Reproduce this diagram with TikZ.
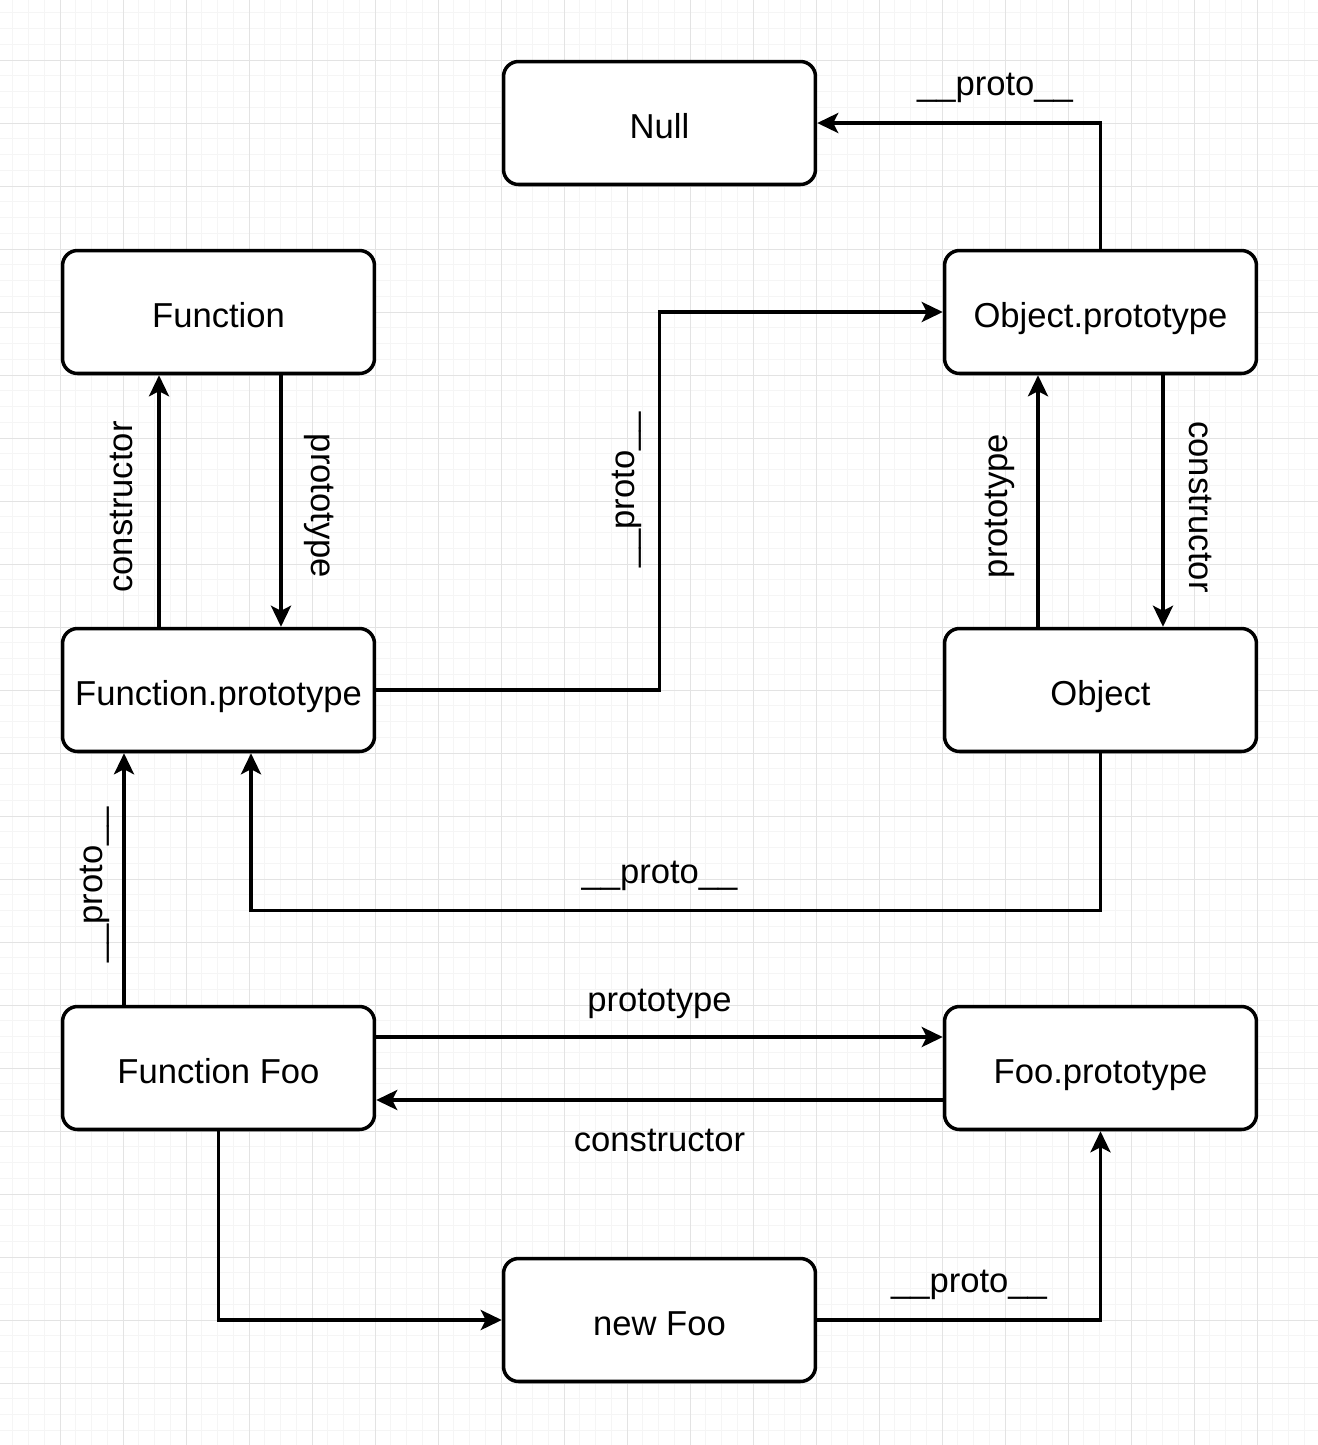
\documentclass[tikz,border=0pt]{standalone}
\usepackage{fontspec}
\setmainfont{Liberation Sans}
\usetikzlibrary{arrows.meta, calc}

\begin{document}
\begin{tikzpicture}[x=0.02cm, y=-0.02cm,
    box/.style={draw, line width=2pt, rounded corners=0.3cm, fill=white, minimum width=6.24cm, minimum height=2.46cm, inner sep=0pt, text height=0.7cm, text depth=0.1cm, font=\fontsize{19.7}{24}\selectfont},
    link/.style={line width=2pt, -{Stealth[length=0.42cm, width=0.4cm, inset=0.1cm]}},
    lbl/.style={anchor=base, inner sep=0pt, font=\fontsize{19.7}{24}\selectfont},
    gridminor/.style={draw=gray!8, line width=0.5pt},
    gridmajor/.style={draw=gray!22, line width=0.5pt}]

    % Background grid
    \useasboundingbox (0,0) rectangle (1318,1445);
    \fill[white] (0,0) rectangle (1318,1445);
    \foreach \k in {1,...,84}
        \draw[gridminor] ({-3+15.75*\k},0) -- ({-3+15.75*\k},1445);
    \foreach \k in {1,...,92}
        \draw[gridminor] (0,{-3+15.75*\k}) -- (1318,{-3+15.75*\k});
    \foreach \k in {1,...,21}
        \draw[gridmajor] ({-3+63*\k},0) -- ({-3+63*\k},1445);
    \foreach \k in {1,...,23}
        \draw[gridmajor] (0,{-3+63*\k}) -- (1318,{-3+63*\k});

    % Objects
    \node[box] (null) at (659.5,123) {Null};
    \node[box] (fn) at (218.5,312) {Function};
    \node[box] (op) at (1100.5,312) {Object.prototype};
    \node[box] (fp) at (218.5,690) {Function.prototype};
    \node[box] (obj) at (1100.5,690) {Object};
    \node[box] (ff) at (218.5,1068) {Function Foo};
    \node[box] (fop) at (1100.5,1068) {Foo.prototype};
    \node[box] (nf) at (659.5,1320) {new Foo};

    % Links at the top
    \draw[link] (op.north) |- (null.east);
    \draw[link] (fp.east) -- (fp.east -| null.south) |- (op.west);
    \draw[link] ([xshift=-1.19cm]fp.north) -- ([xshift=-1.19cm]fn.south);
    \draw[link] ([xshift=1.25cm]fn.south) -- ([xshift=1.25cm]fp.north);
    \draw[link] ([xshift=-1.25cm]obj.north) -- ([xshift=-1.25cm]op.south);
    \draw[link] ([xshift=1.25cm]op.south) -- ([xshift=1.25cm]obj.north);

    % Links at the bottom
    \draw[link] (obj.south) -- ++(0,157) -| ([xshift=0.65cm]fp.south);
    \draw[link] ([xshift=-1.89cm]ff.north) -- ([xshift=-1.89cm]fp.south);
    \draw[link] ([yshift=0.62cm]ff.east) -- ([yshift=0.62cm]fop.west);
    \draw[link] ([yshift=-0.64cm]fop.west) -- ([yshift=-0.64cm]ff.east);
    \draw[link] (ff.south) |- (nf.west);
    \draw[link] (nf.east) -| (fop.south);

    % Labels
    \node[lbl] (l1) at (995,95) {\_\_proto\_\_};
    \node[lbl, rotate=90] (l2) at (634,490) {\_\_proto\_\_};
    \node[lbl, rotate=90] (l3) at (132,507) {constructor};
    \node[lbl, rotate=-90] (l4) at (311,506) {prototype};
    \node[lbl, rotate=90] (l5) at (1007,506) {prototype};
    \node[lbl, rotate=-90] (l6) at (1189,507) {constructor};
    \node[lbl] (l7) at (659.5,883) {\_\_proto\_\_};
    \node[lbl, rotate=90] (l8) at (102,885) {\_\_proto\_\_};
    \node[lbl] (l9) at (659.5,1011) {prototype};
    \node[lbl] (l10) at (659.5,1151) {constructor};
    \node[lbl] (l11) at (969,1292) {\_\_proto\_\_};
\end{tikzpicture}
\end{document}
